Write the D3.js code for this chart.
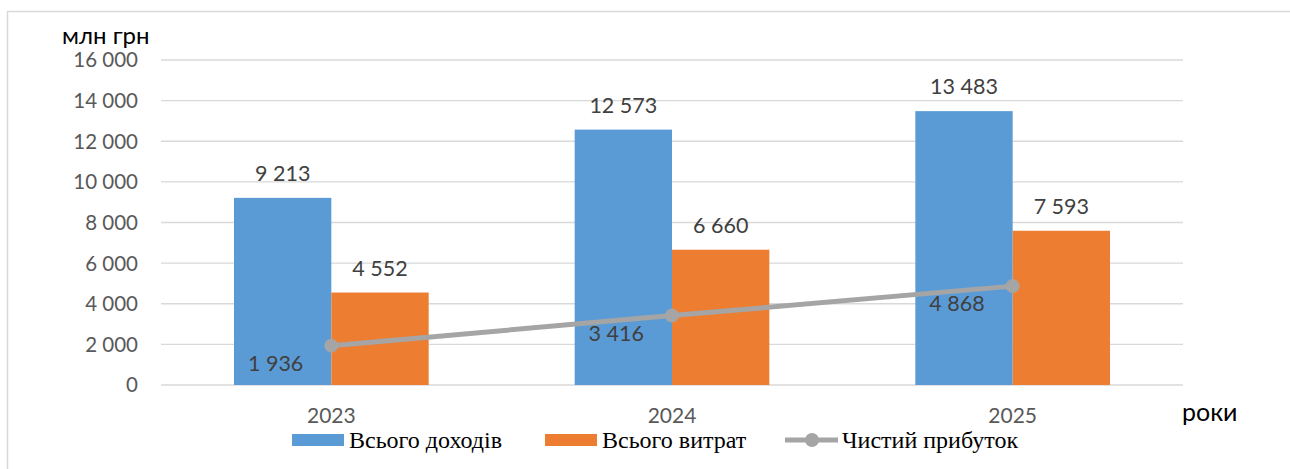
<!DOCTYPE html>
<html>
<head>
<meta charset="utf-8">
<script src="https://cdn.jsdelivr.net/npm/d3@7"></script>
<style>
  body { margin: 0; background: #fff; }
</style>
</head>
<body>
<div id="chart"></div>
<script>
// data
const years = ["2023", "2024", "2025"];
const income = [9213, 12573, 13483];
const costs = [4552, 6660, 7593];
const profit = [1936, 3416, 4868];
const yTicks = [0, 2000, 4000, 6000, 8000, 10000, 12000, 14000, 16000];

const width = 1290, height = 469;
const m = { left: 161, right: 107, top: 60, bottom: 84 };
const sans = "Lato, 'Open Sans', sans-serif";

const fmt = v => d3.format(",")(v).replace(/,/g, " ");

const svg = d3.select("#chart").append("svg")
  .attr("width", width).attr("height", height);

// chart border
svg.append("rect")
  .attr("x", 7.5).attr("y", 11.5)
  .attr("width", 1300).attr("height", 470)
  .attr("fill", "none").attr("stroke", "#d9d9d9").attr("stroke-width", 1.5);

const x = d3.scaleBand().domain(years).range([m.left, width - m.right]);
const y = d3.scaleLinear().domain([0, 16000]).range([height - m.bottom, m.top]);
const groupPad = 73;
const xs = d3.scaleBand().domain(["inc", "cost"])
  .range([groupPad, x.bandwidth() - groupPad]);

// grid
svg.append("g").selectAll("line").data(yTicks).join("line")
  .attr("x1", m.left).attr("x2", width - m.right)
  .attr("y1", d => y(d)).attr("y2", d => y(d))
  .attr("stroke", "#d9d9d9").attr("stroke-width", 1.3);

// y tick labels
svg.append("g").selectAll("text").data(yTicks).join("text")
  .attr("x", 138).attr("y", d => y(d)).attr("dy", "0.36em")
  .attr("text-anchor", "end")
  .attr("font-family", sans)
  .attr("font-size", 20.5).attr("fill", "#595959")
  .text(d => fmt(d));

svg.append("text").attr("x", 62).attr("y", 44)
  .attr("font-family", sans)
  .attr("font-size", 24).attr("fill", "#000").text("млн грн");

// x labels
svg.append("g").selectAll("text").data(years).join("text")
  .attr("x", d => x(d) + x.bandwidth() / 2).attr("y", 423)
  .attr("text-anchor", "middle")
  .attr("font-family", sans)
  .attr("font-size", 21).attr("fill", "#595959")
  .text(d => d);

svg.append("text").attr("x", 1182).attr("y", 421)
  .attr("font-family", sans)
  .attr("font-size", 25).attr("fill", "#000").text("роки");

// bars
const series = [
  { key: "inc", vals: income, color: "#5b9bd5" },
  { key: "cost", vals: costs, color: "#ed7d31" }
];
series.forEach(s => {
  const g = svg.append("g");
  g.selectAll("rect").data(years).join("rect")
    .attr("x", (d) => x(d) + xs(s.key))
    .attr("y", (d, i) => y(s.vals[i]))
    .attr("width", xs.bandwidth())
    .attr("height", (d, i) => y(0) - y(s.vals[i]))
    .attr("fill", s.color);
  g.selectAll("text").data(years).join("text")
    .attr("x", d => x(d) + xs(s.key) + xs.bandwidth() / 2)
    .attr("y", (d, i) => y(s.vals[i]) - 17)
    .attr("text-anchor", "middle")
    .attr("font-family", sans)
    .attr("font-size", 21.5).attr("fill", "#404040")
    .text((d, i) => fmt(s.vals[i]));
});

// profit line
const cx = d => x(d) + x.bandwidth() / 2;
svg.append("path")
  .datum(years)
  .attr("d", d3.line().x(cx).y((d, i) => y(profit[i])))
  .attr("fill", "none").attr("stroke", "#a5a5a5").attr("stroke-width", 5);
svg.append("g").selectAll("circle").data(years).join("circle")
  .attr("cx", cx).attr("cy", (d, i) => y(profit[i])).attr("r", 7)
  .attr("fill", "#a5a5a5");
svg.append("g").selectAll("text").data(years).join("text")
  .attr("x", d => cx(d) - 28).attr("y", (d, i) => y(profit[i]) + 25)
  .attr("text-anchor", "end")
  .attr("font-family", sans)
  .attr("font-size", 21.5).attr("fill", "#404040")
  .text((d, i) => fmt(profit[i]));

// legend
const legend = [
  { name: "Всього доходів", color: "#5b9bd5", type: "bar", x: 292 },
  { name: "Всього витрат", color: "#ed7d31", type: "bar", x: 545 },
  { name: "Чистий прибуток", color: "#a5a5a5", type: "line", x: 785 }
];
const lg = svg.append("g").selectAll("g").data(legend).join("g")
  .attr("transform", d => `translate(${d.x},440)`);
lg.filter(d => d.type === "bar").append("rect")
  .attr("x", 0).attr("y", -6).attr("width", 52).attr("height", 12)
  .attr("fill", d => d.color);
lg.filter(d => d.type === "line").append("line")
  .attr("x1", 0).attr("x2", 53).attr("y1", 0).attr("y2", 0)
  .attr("stroke", d => d.color).attr("stroke-width", 5);
lg.filter(d => d.type === "line").append("circle")
  .attr("cx", 27).attr("cy", 0).attr("r", 7).attr("fill", d => d.color);
lg.append("text")
  .attr("x", 57).attr("y", 0).attr("dy", "0.35em")
  .attr("font-family", "'Liberation Serif', 'Times New Roman', serif")
  .attr("font-size", 24).attr("fill", "#000")
  .text(d => d.name);
</script>
</body>
</html>
